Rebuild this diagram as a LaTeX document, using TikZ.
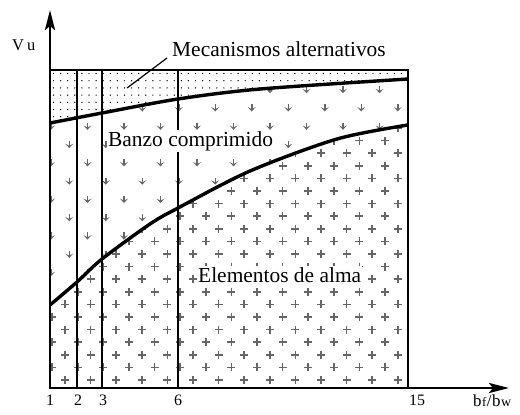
\documentclass[tikz,border=0pt]{standalone}
\usepackage{fontspec}
\setmainfont{Liberation Serif}
\usetikzlibrary{arrows.meta}
\begin{document}
\begin{tikzpicture}[x=1bp,y=-1bp,
  axis/.style={line width=2.8bp,-{Stealth[length=20bp,width=10bp,inset=4bp]}},
  thinline/.style={line width=1.5bp},
  curveline/.style={line width=3.4bp},
  lbl/.style={font=\fontsize{21.5}{24}\selectfont,inner sep=1bp},
  ticklbl/.style={font=\fontsize{16}{18}\selectfont,inner sep=0pt,anchor=base},
  markcol/.style={draw=black!60,line width=1.7bp},
  plusmark/.pic={\draw[markcol] (-4,0)--(4,0) (0,-4)--(0,4);},
  arrmark/.pic={\fill[black!60] (-4,-1.2)--(0,3.2)--(4,-1.2)--(0,0.8)--cycle;
                \draw[markcol,line width=1.5bp] (0,-4)--(0,1.5);}
]
\useasboundingbox (0,0) rectangle (520,414);

% dotted region
\begin{scope}
  \clip plot[smooth] coordinates {(50,123) (102,113) (178,99) (260,89) (408,79)} -- (408,70) -- (50,70) -- cycle;
  \foreach \i in {0,...,50}{
    \foreach \k in {0,...,8}{
      \fill ({53.5+7.1*\i},{73.5+7.2*\k}) circle (0.7bp);
    }
  }
\end{scope}

% arrow-mark region
\begin{scope}
  \clip plot[smooth] coordinates {(50,123) (102,113) (178,99) (260,89) (408,79)}
     -- plot[smooth] coordinates {(408,125) (337,139) (250,171) (178,208) (150,224) (102,259) (77,282) (50,305)} -- cycle;
  \foreach \k in {-1,...,12}{
    \foreach \j in {-1,...,11}{
      \pic at ({51+18.25*mod(\k+2,2)+36.5*\j},{90+18.3*\k}) {arrmark};
    }
  }
\end{scope}

% plus-mark region
\begin{scope}
  \clip plot[smooth] coordinates {(50,305) (77,282) (102,259) (150,224) (178,208) (250,171) (337,139) (408,125)} -- (408,388) -- (50,388) -- cycle;
  \foreach \k in {0,...,20}{
    \foreach \j in {-1,...,14}{
      \pic at ({65-12.8*mod(\k,2)+25.6*\j},{380-12.6*\k}) {plusmark};
    }
  }
\end{scope}

% frame and vertical lines
\coordinate (O) at (50,388);
\coordinate (ytip) at (50,10);
\coordinate (xtip) at (509,388);
\coordinate (TL) at (50,70);
\coordinate (TR) at (408,70);
\coordinate (BR) at (408,388);
\coordinate (t2) at (77,70);  \coordinate (b2) at (77,388);
\coordinate (t3) at (102,70); \coordinate (b3) at (102,388);
\coordinate (t6) at (178,70); \coordinate (b6) at (178,388);
\draw[thinline] (TL) -- (TR) -- (BR);
\draw[thinline] (t2) -- (b2);
\draw[thinline] (t3) -- (b3);
\draw[thinline] (t6) -- (b6);

% curves
\draw[curveline] plot[smooth] coordinates {(50,123) (102,113) (178,99) (260,89) (408,79)};
\draw[curveline] plot[smooth] coordinates {(50,305) (77,282) (102,259) (150,224) (178,208) (250,171) (337,139) (408,125)};

% axes
\draw[axis,line width=2.5bp] (O) -- (ytip);
\draw[axis] ([xshift=-1.2bp]O) -- (xtip);

% labels
\node[lbl,anchor=base west] (mec) at (171,56) {Mecanismos alternativos};
\coordinate (leadA) at (167,58);
\coordinate (leadB) at (127,88);
\draw[line width=1.2bp] (leadA) -- (leadB);
\node[lbl,anchor=base west,fill=white] (banzo) at (107,146) {Banzo comprimido};
\node[lbl,anchor=base west,fill=white] (alma) at (197,282) {Elementos de alma};

\node[font=\fontsize{16.5}{18}\selectfont,inner sep=0pt,anchor=base west] (vu) at (12,50) {V\kern3bp u};
\node[font=\fontsize{17}{19}\selectfont,inner sep=0pt,anchor=base west] (bfbw) at (473,406)
  {b\kern0.5bp{\fontsize{13}{15}\selectfont f}\kern0.5bp/\kern0.5bp b\kern0.5bp{\fontsize{14}{16}\selectfont w}};

\node[ticklbl] (l1) at (50,405) {1};
\node[ticklbl] (l2) at (78,405) {2};
\node[ticklbl] (l3) at (103,405) {3};
\node[ticklbl] (l6) at (178,405) {6};
\node[ticklbl] (l15) at (417,405) {15};
\end{tikzpicture}
\end{document}
